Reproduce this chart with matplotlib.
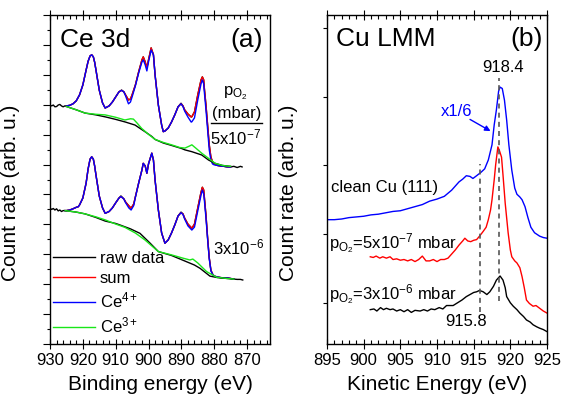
import numpy as np
import matplotlib
matplotlib.use("Agg")
import matplotlib.pyplot as plt
from matplotlib.ticker import MultipleLocator

plt.rcParams["font.family"] = ["Liberation Sans", "DejaVu Sans"]
plt.rcParams["mathtext.fontset"] = "custom"
plt.rcParams["mathtext.rm"] = "Liberation Sans"
plt.rcParams["mathtext.it"] = "Liberation Sans:italic"
plt.rcParams["mathtext.default"] = "regular"
plt.rcParams["axes.unicode_minus"] = False

# ---------------------------------------------------------
# (a) Ce 3d, p_O2 = 5x10^-7 mbar (upper spectrum)
# ---------------------------------------------------------
top_raw_E = [930, 929.5, 929, 928.5, 928, 927.5, 927, 926.5, 926, 925.5, 925,
             924, 923, 922, 921, 920, 919, 918.4, 917.8, 917.3, 916.8, 916.4, 916, 915, 914,
             913.2, 912, 911, 910, 909, 908.2, 907.5, 907, 906.1, 905.5, 905,
             904, 903, 902, 901.6, 901, 900.5, 900, 899.2, 898.5, 898, 897,
             896, 895.5, 895, 894, 893, 892, 891, 890.1, 889.5, 889, 888, 887,
             886.8, 886, 885, 884, 883.6, 883.2, 883, 882.5, 882, 881.5, 881,
             880.5, 880, 879, 878, 877, 876, 875, 874, 873, 872, 871.5]
top_raw = [7.99, 7.96, 7.99, 7.93, 7.94, 7.99, 8.01, 7.96, 7.93, 7.96, 7.96,
           7.98, 8.03, 8.13, 8.33, 8.66, 9.16, 9.45, 9.63, 9.67, 9.60, 9.42, 9.16, 8.49, 8.06,
           7.89, 7.96, 8.09, 8.26, 8.43, 8.49, 8.43, 8.33, 8.16, 8.19, 8.33,
           8.66, 9.10, 9.50, 9.60, 9.43, 9.23, 9.50, 9.90, 9.67, 9.00, 7.99,
           7.32, 7.10, 7.12, 7.22, 7.42, 7.66, 7.93, 8.05, 7.96, 7.83, 7.69, 7.59,
           7.60, 7.76, 8.33, 8.83, 8.93, 8.83, 8.56, 7.99, 7.32, 6.66, 6.25,
           6.09, 6.02, 5.97, 5.95, 5.94, 5.92, 5.92, 5.94, 5.90, 5.94, 5.92]

top_E = [925, 924, 923, 922, 921, 920, 919, 918.4, 917.8, 917.3, 916.8, 916.4, 916, 915, 914,
         913.2, 912, 911, 910, 909, 908.2, 907.5, 907, 906.1, 905.5, 905,
         904, 903, 902, 901.6, 901, 900.5, 900, 899.2, 898.5, 898, 897,
         896, 895.5, 895, 894, 893, 892, 891, 890.1, 889.5, 889, 888, 887,
         886.8, 886, 885, 884, 883.6, 883.2, 883, 882.5, 882, 881.5, 881,
         880.5, 880, 879, 878, 877, 876, 875]
top_sum = [7.96, 7.98, 8.03, 8.13, 8.33, 8.66, 9.16, 9.45, 9.63, 9.67, 9.60, 9.42, 9.16, 8.49, 8.06,
           7.89, 7.96, 8.09, 8.26, 8.43, 8.48, 8.43, 8.33, 8.16, 8.19, 8.33,
           8.66, 9.10, 9.50, 9.60, 9.43, 9.23, 9.50, 9.90, 9.67, 9.00, 7.99,
           7.32, 7.10, 7.12, 7.22, 7.42, 7.66, 7.93, 8.03, 7.96, 7.83, 7.69, 7.59,
           7.60, 7.76, 8.33, 8.83, 8.93, 8.83, 8.56, 7.99, 7.32, 6.66, 6.25,
           6.09, 6.02, 5.97, 5.95, 5.94, 5.92, 5.92]
top_ce4 = [7.96, 7.98, 8.03, 8.13, 8.33, 8.66, 9.16, 9.45, 9.63, 9.67, 9.60, 9.42, 9.16, 8.49, 8.06,
           7.89, 7.96, 8.09, 8.26, 8.43, 8.48, 8.43, 8.30, 8.03, 8.09, 8.26,
           8.63, 9.06, 9.43, 9.50, 9.33, 9.13, 9.43, 9.83, 9.67, 9.00, 7.99,
           7.32, 7.10, 7.12, 7.22, 7.42, 7.66, 7.93, 8.03, 7.94, 7.79, 7.59, 7.42,
           7.43, 7.56, 8.16, 8.70, 8.83, 8.70, 8.43, 7.83, 7.16, 6.49, 6.15,
           6.02, 5.99, 5.97, 5.95, 5.94, 5.92, 5.92]

top_ce3_E = [925, 922, 919.3, 916, 913.2, 910, 907.2, 905.5, 904.6, 903.5, 902.1,
             900, 898, 895.5, 893, 890.5, 888.9, 887.5, 886.8, 885.5, 883.8,
             881.5, 879.7, 877.5, 876.2, 875]
top_ce3 = [7.94, 7.83, 7.72, 7.68, 7.66, 7.58, 7.49, 7.53, 7.52, 7.39, 7.21,
           7.01, 6.84, 6.74, 6.66, 6.57, 6.55, 6.62, 6.66, 6.54, 6.38,
           6.19, 6.04, 5.97, 5.95, 5.94]

top_bg_E = [925, 922, 919.3, 916, 913, 910, 907, 904.1, 901.1, 899, 898, 895.5,
            893, 890, 888.9, 886.8, 883.8, 881.7, 879.7, 877.5, 875]
top_bg = [7.94, 7.83, 7.72, 7.66, 7.59, 7.51, 7.42, 7.32, 7.10, 6.94, 6.84, 6.72,
          6.64, 6.54, 6.49, 6.43, 6.32, 6.15, 6.04, 5.97, 5.94]

# ---------------------------------------------------------
# (a) Ce 3d, p_O2 = 3x10^-6 mbar (lower spectrum)
# ---------------------------------------------------------
bot_raw_E = [930, 929.5, 929, 928.5, 928, 927.5, 927, 926.5, 926, 925.4, 925,
             924, 923, 922, 921.4, 921, 920, 919, 918.4, 917.8, 917.3, 916.8, 916.4, 916, 915,
             914, 913.2, 912, 911, 910, 909, 908.4, 907.5, 907, 906, 905.3,
             904.5, 904, 903, 902, 901.6, 901, 900.5, 900, 899, 898.5, 898, 897,
             896, 895, 894, 893, 892, 891, 890.1, 889.5, 889, 888, 886.8, 886,
             885, 884, 883.6, 883.2, 883, 882.5, 882, 881.5, 881, 880.5, 880,
             879, 878, 877, 876, 875, 874, 873, 872, 871.3]
bot_raw = [4.54, 4.50, 4.53, 4.48, 4.52, 4.45, 4.48, 4.43, 4.46, 4.46, 4.46,
           4.48, 4.52, 4.57, 4.59, 4.65, 4.88, 5.38, 5.85, 6.18, 6.26, 6.18, 5.95, 5.65, 4.95,
           4.55, 4.37, 4.43, 4.55, 4.72, 4.88, 4.95, 4.85, 4.75, 4.62, 4.54,
           4.68, 4.92, 5.38, 5.82, 6.04, 5.95, 5.71, 6.02, 6.38, 6.15, 5.48, 4.48,
           3.71, 3.37, 3.48, 3.71, 3.98, 4.28, 4.41, 4.35, 4.21, 4.01, 3.87, 4.01,
           4.55, 5.08, 5.24, 5.15, 4.92, 4.31, 3.55, 2.88, 2.47, 2.34, 2.27,
           2.24, 2.22, 2.21, 2.21, 2.19, 2.17, 2.16, 2.16, 2.14]

bot_E = [925.4, 925, 924, 923, 922, 921.4, 921, 920, 919, 918.4, 917.8, 917.3, 916.8, 916.4, 916,
         915, 914, 913.2, 912, 911, 910, 909, 908.4, 907.5, 907, 906, 905.3,
         904.5, 904, 903, 902, 901.6, 901, 900.5, 900, 899, 898.5, 898, 897,
         896, 895, 894, 893, 892, 891, 890.1, 889.5, 889, 888, 886.8, 886,
         885, 884, 883.6, 883.2, 883, 882.5, 882, 881.5, 881, 880.5, 880,
         879, 878, 877, 876, 875, 874]
bot_sum = [4.46, 4.46, 4.48, 4.52, 4.57, 4.59, 4.65, 4.88, 5.38, 5.85, 6.18, 6.26, 6.18, 5.95, 5.65,
           4.95, 4.55, 4.37, 4.43, 4.55, 4.72, 4.88, 4.93, 4.85, 4.75, 4.62, 4.54,
           4.68, 4.92, 5.38, 5.82, 6.04, 5.95, 5.71, 6.02, 6.38, 6.15, 5.48, 4.48,
           3.71, 3.37, 3.48, 3.71, 3.98, 4.28, 4.39, 4.35, 4.21, 4.01, 3.87, 4.01,
           4.55, 5.08, 5.24, 5.15, 4.92, 4.31, 3.55, 2.88, 2.47, 2.34, 2.27,
           2.24, 2.22, 2.21, 2.21, 2.19, 2.17]
bot_ce4 = [4.46, 4.46, 4.48, 4.52, 4.57, 4.59, 4.65, 4.88, 5.38, 5.85, 6.18, 6.26, 6.18, 5.95, 5.65,
           4.95, 4.55, 4.37, 4.43, 4.55, 4.72, 4.88, 4.93, 4.85, 4.73, 4.55, 4.48,
           4.63, 4.90, 5.38, 5.82, 6.04, 5.95, 5.71, 6.02, 6.38, 6.15, 5.48, 4.48,
           3.71, 3.37, 3.48, 3.71, 3.98, 4.28, 4.39, 4.33, 4.18, 3.95, 3.81, 3.91,
           4.45, 4.98, 5.15, 5.02, 4.82, 4.21, 3.50, 2.85, 2.45, 2.33, 2.27,
           2.24, 2.22, 2.21, 2.21, 2.19, 2.17]

bot_ce3_E = [925.4, 922, 919.3, 916, 913.2, 910, 907.2, 904, 901.1, 899, 897, 893,
             889.5, 887.4, 886.5, 885, 882.3, 879.2, 876, 874]
bot_ce3 = [4.46, 4.41, 4.35, 4.25, 4.15, 4.01, 3.90, 3.71, 3.48, 3.28, 3.09, 2.98,
           2.87, 2.81, 2.84, 2.71, 2.42, 2.23, 2.19, 2.17]

bot_bg_E = [925.4, 922, 919.3, 916, 913.2, 910, 908.7, 905.5, 902.6, 899.5, 897,
            893, 888.4, 886, 884.3, 881.3, 879, 876, 874]
bot_bg = [4.46, 4.41, 4.35, 4.23, 4.11, 4.03, 3.98, 3.85, 3.70, 3.37, 3.09,
          2.96, 2.75, 2.64, 2.53, 2.27, 2.22, 2.19, 2.17]

# ---------------------------------------------------------
# (b) Cu LMM
# ---------------------------------------------------------
clean_E = [895, 896, 897, 898, 899, 900, 901, 902, 903, 904, 905, 906, 907, 908,
           909, 910, 911, 912, 913, 913.5, 914, 914.5, 914.9, 915.4, 916, 916.5,
           917, 917.5, 917.8, 918.1, 918.4, 918.6, 918.9, 919.2, 919.5, 919.8,
           920.2, 920.6, 920.9, 921.3, 921.6, 922, 922.4, 922.8, 923.3, 924,
           924.5, 925]
clean_cu = [1.21, 1.21, 1.22, 1.24, 1.25, 1.26, 1.28, 1.29, 1.31, 1.33, 1.34, 1.37,
            1.40, 1.43, 1.48, 1.51, 1.55, 1.64, 1.76, 1.80, 1.85, 1.84, 1.81, 1.85,
            1.90, 1.95, 2.08, 2.30, 2.59, 2.81, 3.08, 3.14, 3.12, 2.95, 2.66, 2.30,
            1.93, 1.67, 1.58, 1.54, 1.50, 1.40, 1.24, 1.10, 1.02, 0.97, 0.95, 0.94]

p5_E = [900.9, 901.3, 901.7, 902.2, 902.6, 903.1, 903.6, 904, 904.5, 905, 905.5,
        906, 906.5, 907, 907.5, 908, 908.5, 909, 909.5, 910, 910.5, 911, 911.5,
        912, 912.5, 913, 913.5, 913.8, 914.2, 914.6, 915, 915.4, 915.8, 916.3,
        916.7, 917, 917.3, 917.5, 917.8, 918, 918.3, 918.5, 918.8, 919, 919.3,
        919.7, 920, 920.2, 920.6, 920.9, 921.3, 921.6, 921.9, 922.2, 922.6,
        923.1, 923.5, 924, 924.5, 925]
p5 = [0.67, 0.66, 0.68, 0.65, 0.67, 0.65, 0.67, 0.63, 0.64, 0.62, 0.63,
      0.61, 0.63, 0.60, 0.63, 0.68, 0.61, 0.61, 0.63, 0.60, 0.63, 0.63, 0.65,
      0.71, 0.77, 0.84, 0.90, 0.94, 0.90, 0.89, 0.91, 0.92, 0.97, 1.04,
      1.10, 1.21, 1.35, 1.50, 1.79, 2.01, 2.27, 2.22, 2.12, 1.86, 1.45,
      1.02, 0.77, 0.67, 0.61, 0.58, 0.51, 0.38, 0.22, 0.04, -0.01,
      -0.05, -0.04, -0.08, -0.12, -0.15]

p3_E = [900.9, 901.4, 901.8, 902.3, 902.7, 903.1, 903.6, 904, 904.5, 905, 905.5,
        906, 906.5, 907, 907.7, 908.2, 908.7, 909.2, 909.7, 910.3, 910.8, 911.3,
        912.2, 912.8, 913.4, 914, 914.5, 915, 915.4, 915.8, 916.3, 916.8, 917.2,
        917.7, 918.1, 918.6, 919, 919.3, 919.5, 920, 920.4, 920.9, 921.3, 921.8,
        922.2, 922.7, 923.1, 923.6, 924, 924.5, 925]
p3 = [-0.10, -0.09, -0.12, -0.07, -0.10, -0.08, -0.10, -0.09, -0.12, -0.10, -0.13,
      -0.10, -0.14, -0.11, -0.12, -0.10, -0.12, -0.09, -0.10, -0.07, -0.09, -0.04,
      -0.04, 0.00, 0.04, 0.09, 0.12, 0.15, 0.16, 0.18, 0.16, 0.12, 0.16,
      0.24, 0.33, 0.39, 0.33, 0.22, 0.09, 0.00, -0.05, -0.10, -0.15, -0.20,
      -0.25, -0.28, -0.32, -0.35, -0.37, -0.39, -0.42]

# dashed markers: (energy, lower end, upper end)
marker_E = [915.8, 918.4]
marker_lo = [-0.13, 0.02]
marker_hi = [2.02, 3.27]

green = "#19e619"

fig = plt.figure(figsize=(5.62, 3.98), dpi=100)
ax1 = fig.add_axes([50 / 562, 54 / 398, 220 / 562, 329 / 398])
ax2 = fig.add_axes([327 / 562, 54 / 398, 220 / 562, 329 / 398])

# ---- panel (a)
lw = 1.0
ax1.plot(top_raw_E, top_raw, color="black", lw=lw, label="raw data")
ax1.plot(top_E, top_sum, color="red", lw=lw, label="sum")
ax1.plot(top_E, top_ce4, color="blue", lw=lw, label="Ce$^{4+}$")
ax1.plot(top_bg_E, top_bg, color="black", lw=lw)
ax1.plot(top_ce3_E, top_ce3, color=green, lw=lw, label="Ce$^{3+}$")

ax1.plot(bot_raw_E, bot_raw, color="black", lw=lw)
ax1.plot(bot_E, bot_sum, color="red", lw=lw)
ax1.plot(bot_E, bot_ce4, color="blue", lw=lw)
ax1.plot(bot_bg_E, bot_bg, color="black", lw=lw)
ax1.plot(bot_ce3_E, bot_ce3, color=green, lw=lw)

ax1.set_xlim(930, 863)
ax1.set_ylim(0, 11)
ax1.xaxis.set_minor_locator(MultipleLocator(2))
ax1.yaxis.set_major_locator(MultipleLocator(1))
ax1.yaxis.set_minor_locator(MultipleLocator(0.5))
ax1.set_xticks([930, 920, 910, 900, 890, 880, 870])
ax1.set_yticklabels([])
ax1.tick_params(axis="y", which="major", direction="out", length=5, width=0.8)
ax1.tick_params(axis="y", which="minor", direction="out", length=2.5, width=0.8)

ax1.set_xlabel("Binding energy (eV)", fontsize=15, labelpad=5)
ax1.set_ylabel("Count rate (arb. u.)", fontsize=15)
ax1.yaxis.set_label_coords(-0.135, 0.46)

ax1.text(0.045, 0.903, "Ce 3d", transform=ax1.transAxes, fontsize=19, va="baseline")
ax1.text(0.966, 0.903, "(a)", transform=ax1.transAxes, fontsize=19, va="baseline", ha="right")
ax1.text(0.842, 0.757, "p$_{O_2}$", transform=ax1.transAxes, fontsize=12, ha="center", va="baseline")
ax1.text(0.85, 0.686, "(mbar)", transform=ax1.transAxes, fontsize=12, ha="center", va="baseline")
ax1.plot([0.73, 0.962], [0.672, 0.672], transform=ax1.transAxes, color="black", lw=1.0)
ax1.text(0.841, 0.607, "5x10$^{-7}$", transform=ax1.transAxes, fontsize=12, ha="center", va="baseline")
ax1.text(0.859, 0.273, "3x10$^{-6}$", transform=ax1.transAxes, fontsize=12, ha="center", va="baseline")

ax1.legend(loc="lower left", bbox_to_anchor=(0.0, 0.015), frameon=False, fontsize=12,
           handlelength=2.5, handletextpad=0.3, labelspacing=0.3, borderpad=0.2,
           borderaxespad=0)

# ---- panel (b)
ax2.plot(clean_E, clean_cu, color="blue", lw=lw)
ax2.plot(p5_E, p5, color="red", lw=lw)
ax2.plot(p3_E, p3, color="black", lw=lw)
for e, lo, hi in zip(marker_E, marker_lo, marker_hi):
    ax2.plot([e, e], [lo, hi], color="#555555", lw=1.2, ls=(0, (3, 2.5)))

ax2.set_xlim(895, 925)
ax2.set_ylim(-0.6, 4.19)
ax2.xaxis.set_major_locator(MultipleLocator(5))
ax2.xaxis.set_minor_locator(MultipleLocator(1))
ax2.set_yticks([0, 1, 2, 3, 4])
ax2.set_yticklabels([])
ax2.tick_params(axis="y", which="major", direction="out", length=3, width=0.8)

ax2.set_xlabel("Kinetic Energy (eV)", fontsize=15, labelpad=5)
ax2.set_ylabel("Count rate (arb. u.)", fontsize=15)
ax2.yaxis.set_label_coords(-0.134, 0.46)

ax2.text(0.041, 0.906, "Cu LMM", transform=ax2.transAxes, fontsize=19, va="baseline")
ax2.text(0.982, 0.906, "(b)", transform=ax2.transAxes, fontsize=19, va="baseline", ha="right")
ax2.text(919.0, 3.43, "918.4", fontsize=12, ha="center", va="center")
ax2.text(914.0, -0.27, "915.8", fontsize=12, ha="center", va="center")
ax2.text(912.7, 2.78, "x1/6", fontsize=12, ha="center", va="center", color="blue")
ax2.annotate("", xy=(917.3, 2.50), xytext=(914.5, 2.67),
             arrowprops=dict(arrowstyle="-|>", color="blue", lw=1.0,
                             mutation_scale=8, shrinkA=0, shrinkB=0))
ax2.text(895.5, 1.68, "clean Cu (111)", fontsize=12, va="center")
ax2.text(895.3, 0.78, "p$_{O_2}$=5x10$^{-7}$ mbar", fontsize=12, va="baseline")
ax2.text(895.3, 0.04, "p$_{O_2}$=3x10$^{-6}$ mbar", fontsize=12, va="baseline")

for ax in (ax1, ax2):
    ax.tick_params(axis="x", which="major", direction="inout", length=7, width=0.8,
                   labelsize=12, top=True, pad=3)
    ax.tick_params(axis="x", which="minor", direction="in", length=3, width=0.8, top=True)
    ax.tick_params(axis="y", right=False)
    for s in ax.spines.values():
        s.set_linewidth(1.0)

fig.savefig("out.png", dpi=100)
